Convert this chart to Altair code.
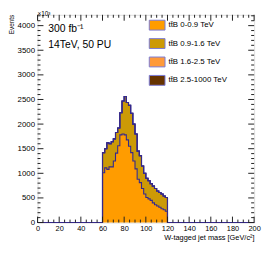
import altair as alt
import pandas as pd

# ---- data ----
bin_lo = [60, 62, 64, 66, 68, 70, 72, 74, 76, 78, 80, 82, 84, 86, 88,
          90, 92, 94, 96, 98, 100, 102, 104, 106, 108, 110, 112, 114, 116, 118]
bin_hi_last = 120
series_names = ["tt\u0304B 0-0.9 TeV", "tt\u0304B 0.9-1.6 TeV",
                "tt\u0304B 1.6-2.5 TeV", "tt\u0304B 2.5-1000 TeV"]
series_colors = ["#ff9c00", "#cc9a06", "#ff9a3a", "#663300"]
s0 = [1010, 1110, 1080, 1130, 1130, 1250, 1410, 1560, 1780, 1800, 1780, 1680, 1550, 1420, 1250,
      1090, 880, 810, 690, 580, 510, 480, 450, 400, 360, 335, 310, 280, 260, 230]
s1 = [410, 390, 540, 470, 510, 450, 420, 360, 450, 670, 780, 760, 830, 800, 750,
      710, 570, 550, 460, 420, 390, 370, 340, 340, 330, 305, 300, 300, 280, 280]
s2 = [0] * 30
s3 = [0] * 30
series_vals = [s0, s1, s2, s3]

x_ticks_major = [0, 20, 40, 60, 80, 100, 120, 140, 160, 180, 200]
y_ticks_major = [0, 500, 1000, 1500, 2000, 2500, 3000, 3500, 4000]
x_minor_step = 5
y_minor_step = 100
x_domain = [0, 200]
y_domain = [0, 4220]

# ---- build tables ----
area_rows, line_rows = [], []
cum = [0] * len(bin_lo)
for name, vals in zip(series_names, series_vals):
    top = [c + v for c, v in zip(cum, vals)]
    xs_ = bin_lo + [bin_hi_last]
    tops = top + [top[-1]]
    bots = cum + [cum[-1]]
    for x, t, b in zip(xs_, tops, bots):
        area_rows.append({"series": name, "m": x, "y": t, "bot": b})
    line_rows.append({"series": name, "m": x_domain[0], "y": 0})
    for x, t in zip(bin_lo, top):
        line_rows.append({"series": name, "m": x, "y": t})
    line_rows.append({"series": name, "m": bin_hi_last, "y": 0})
    line_rows.append({"series": name, "m": x_domain[1], "y": 0})
    cum = top
area_df = pd.DataFrame(area_rows)
line_df = pd.DataFrame(line_rows)

x_major = pd.DataFrame({"m": x_ticks_major})
x_minor = pd.DataFrame({"m": [v for v in range(x_domain[0], x_domain[1] + 1, x_minor_step)
                               if v not in x_ticks_major]})
y_major = pd.DataFrame({"y": y_ticks_major})
y_minor = pd.DataFrame({"y": [v for v in range(0, y_domain[1], y_minor_step)
                               if v not in y_ticks_major]})

W, H = 220, 211
FONT = "Liberation Sans"

xs = alt.Scale(domain=x_domain, nice=False, zero=False)
ys = alt.Scale(domain=y_domain, nice=False)

x_axis = alt.Axis(values=x_ticks_major, ticks=False, tickSize=0, grid=False,
                  domain=False, labelFont=FONT, labelFontSize=7.5, format="d",
                  labelColor="black", labelPadding=2, labelOverlap=False,
                  labelFlush=False, title="W-tagged jet mass [GeV/c\u00b2]",
                  titleFont=FONT, titleFontSize=7.5, titleFontWeight="normal",
                  titleColor="black", titleAnchor="end", titlePadding=2)
y_axis = alt.Axis(values=y_ticks_major, ticks=False, tickSize=0, grid=False,
                  domain=False, labelFont=FONT, labelFontSize=8, format="d",
                  labelColor="black", labelPadding=3, labelOverlap=False,
                  labelFlush=False, title=None)

def X():
    return alt.X("m:Q", scale=xs, axis=x_axis, title="W-tagged jet mass [GeV/c\u00b2]")

def Y():
    return alt.Y("y:Q", scale=ys, axis=y_axis, title=None)

areas = alt.Chart(area_df).mark_area(interpolate="step-after").encode(
    x=X(),
    y=Y(),
    y2="bot:Q",
    fill=alt.Fill("series:N",
                  scale=alt.Scale(domain=series_names, range=series_colors),
                  sort=series_names,
                  legend=alt.Legend(orient="none", legendX=113, legendY=2, title=None,
                                    padding=0,
                                    symbolType="M-1,-0.625H1V0.625H-1Z", symbolSize=256,
                                    symbolStrokeColor="#7b7bd6", symbolStrokeWidth=1,
                                    symbolOpacity=1, labelFont=FONT, labelFontSize=8,
                                    labelColor="black", labelOffset=3, rowPadding=2.7)),
)

lines = alt.Chart(line_df).mark_line(interpolate="step-after", color="#35288a",
                                     strokeWidth=1.1).encode(
    x=X(), y=Y(), detail="series:N",
)

tick_color = "#222222"
xM_b = alt.Chart(x_major).mark_rule(color=tick_color).encode(
    x=X(), y=alt.value(H), y2=alt.value(H - 6))
xM_t = alt.Chart(x_major).mark_rule(color=tick_color).encode(
    x=X(), y=alt.value(0), y2=alt.value(6))
xm_b = alt.Chart(x_minor).mark_rule(color=tick_color).encode(
    x=X(), y=alt.value(H), y2=alt.value(H - 3))
xm_t = alt.Chart(x_minor).mark_rule(color=tick_color).encode(
    x=X(), y=alt.value(0), y2=alt.value(3))
yM_l = alt.Chart(y_major).mark_rule(color=tick_color).encode(
    y=Y(), x=alt.value(0), x2=alt.value(6))
yM_r = alt.Chart(y_major).mark_rule(color=tick_color).encode(
    y=Y(), x=alt.value(W), x2=alt.value(W - 6))
ym_l = alt.Chart(y_minor).mark_rule(color=tick_color).encode(
    y=Y(), x=alt.value(0), x2=alt.value(3))
ym_r = alt.Chart(y_minor).mark_rule(color=tick_color).encode(
    y=Y(), x=alt.value(W), x2=alt.value(W - 3))

def label(txt, x, y, size, **kw):
    return alt.Chart(pd.DataFrame({"t": [txt]})).mark_text(
        font=FONT, fontSize=size, color="black", **kw).encode(
        text="t:N", x=alt.value(x), y=alt.value(y))

lumi = label("300 fb\u207b\u00b9", 11, 17, 10.5, align="left", baseline="alphabetic")
energy = label("14TeV, 50 PU", 11, 34, 10.5, align="left", baseline="alphabetic")
ytitle = label("Events", -29, 0, 6.5, align="right", baseline="top", angle=270)
expo = label("\u00d710\u00b3", 0, -4, 6.5, align="left", baseline="top")

chart = alt.layer(
    areas, lines, xM_b, xM_t, xm_b, xm_t, yM_l, yM_r, ym_l, ym_r,
    lumi, energy, ytitle, expo,
).properties(
    width=W, height=H,
    autosize=alt.AutoSizeParams(type="none"),
    padding={"left": 30, "top": 5, "right": 8, "bottom": 27},
).configure_view(stroke="black", strokeWidth=1).configure(background="white")

chart.save("out.html", embed_options={"renderer": "svg", "actions": False})
